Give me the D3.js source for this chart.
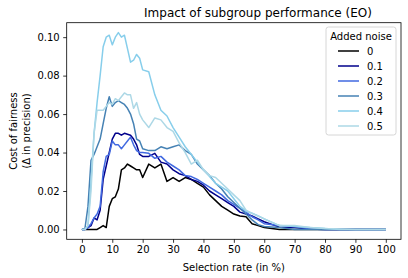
<!DOCTYPE html>
<html>
<head>
<meta charset="utf-8">
<script src="https://cdn.jsdelivr.net/npm/d3@7"></script>
<style>
  body { margin: 0; background: #fff; }
  svg { display: block; font-family: "DejaVu Sans", sans-serif; }
</style>
</head>
<body>
<div id="chart"></div>
<script>
// selection rates (in %)
const xs = [0,1,2,3,4,5,6,7,8,9,10,11,12,13,14,15,16,17,18,19,20,
  22,24,26,28,30,32,34,36,38,40,42,44,46,48,50,52,54,56,58,60,
  65,70,75,80,85,90,95,100];

const noise0 = [0,0,0,0,0,0,0.001,0.002,0.001,0.012,0.016,0.017,0.021,0.031,0.032,0.034,0.033,0.032,0.031,0.031,0.027,
  0.034,0.032,0.034,0.025,0.027,0.025,0.027,0.026,0.024,0.022,0.018,0.015,0.012,0.010,0.008,0.007,0.0066,0.003,0.002,0.001,
  0,0,0,0,0,0,0,0];
const noise1 = [0,0,0.001,0.002,0.006,0.005,0.010,0.026,0.033,0.040,0.047,0.050,0.050,0.049,0.050,0.0495,0.049,0.047,0.044,0.039,0.038,
  0.038,0.0396,0.035,0.034,0.031,0.029,0.028,0.026,0.025,0.023,0.020,0.018,0.016,0.014,0.012,0.009,0.008,0.007,0.0055,0.004,
  0.0012,0.001,0.0003,0,0,0,0,0];
const noise2 = [0,0,0.001,0.003,0.006,0.008,0.012,0.030,0.038,0.039,0.046,0.044,0.044,0.042,0.044,0.046,0.048,0.044,0.041,0.040,0.040,
  0.0396,0.037,0.038,0.035,0.033,0.031,0.028,0.0275,0.026,0.024,0.022,0.020,0.018,0.015,0.013,0.011,0.009,0.0066,0.005,0.003,
  0.002,0.0015,0.0003,0,0,0,0,0];
const noise3 = [0,0.0005,0.012,0.036,0.039,0.043,0.047,0.055,0.063,0.069,0.064,0.066,0.067,0.066,0.065,0.063,0.060,0.055,0.047,0.046,0.042,
  0.041,0.041,0.043,0.042,0.043,0.044,0.041,0.039,0.034,0.031,0.028,0.024,0.021,0.017,0.014,0.011,0.008,0.005,0.0025,0.0015,
  0.001,0,0,0,0,0,0,0];
const noise4 = [0,0,0.002,0.025,0.050,0.066,0.080,0.095,0.100,0.101,0.096,0.100,0.1024,0.100,0.101,0.094,0.087,0.088,0.091,0.089,0.083,
  0.082,0.070,0.062,0.059,0.053,0.048,0.043,0.039,0.035,0.031,0.0275,0.024,0.022,0.020,0.016,0.012,0.0095,0.0085,0.007,0.0055,
  0.002,0.0015,0.001,0.0005,0,0,0,0];
const noise5 = [0,0,0.002,0.020,0.050,0.062,0.062,0.062,0.064,0.066,0.065,0.068,0.067,0.069,0.071,0.070,0.070,0.063,0.066,0.060,0.057,
  0.053,0.058,0.057,0.053,0.051,0.045,0.040,0.034,0.036,0.031,0.028,0.027,0.024,0.021,0.018,0.015,0.010,0.0083,0.007,0.0055,
  0.002,0.002,0.001,0.0005,0.0003,0,0,0];

const noiseLabels = ["0", "0.1", "0.2", "0.3", "0.4", "0.5"];
const noiseValues = [noise0, noise1, noise2, noise3, noise4, noise5];
const colors = ["black", "darkblue", "royalblue", "steelblue", "skyblue", "lightblue"];

const xTicks = [0,10,20,30,40,50,60,70,80,90,100];
const yTicks = [0, 0.02, 0.04, 0.06, 0.08, 0.10];

const width = 408, height = 278;
const plot = { left: 66.7, right: 401, top: 22.7, bottom: 239.3 };

const svg = d3.select("#chart").append("svg")
    .attr("width", width)
    .attr("height", height);

const xScale = d3.scaleLinear().domain([-5, 105]).range([plot.left, plot.right]);
const yScale = d3.scaleLinear().domain([-0.00512, 0.10752]).range([plot.bottom, plot.top]);

// axes
const xAxis = svg.append("g")
    .attr("transform", `translate(0,${plot.bottom})`)
    .call(d3.axisBottom(xScale).tickValues(xTicks).tickSize(3.5).tickPadding(3.5).tickFormat(d3.format("d")));
const yAxis = svg.append("g")
    .attr("transform", `translate(${plot.left},0)`)
    .call(d3.axisLeft(yScale).tickValues(yTicks).tickSize(3.5).tickPadding(3.5).tickFormat(d3.format(".2f")));

[xAxis, yAxis].forEach(ax => {
    ax.select(".domain").remove();
    ax.selectAll("line").attr("stroke", "#000").attr("stroke-width", 0.8);
    ax.selectAll("text").attr("font-size", 10).attr("fill", "#000")
        .attr("font-family", "DejaVu Sans, sans-serif");
});

// lines
const line = d3.line()
    .x((d, i) => xScale(xs[i]))
    .y(d => yScale(d));

svg.append("g").selectAll("path")
    .data(noiseValues)
    .enter()
    .append("path")
    .attr("d", d => line(d))
    .attr("fill", "none")
    .attr("stroke", (d, i) => colors[i])
    .attr("stroke-width", 1.5)
    .attr("stroke-linejoin", "round");

// frame
svg.append("rect")
    .attr("x", plot.left).attr("y", plot.top)
    .attr("width", plot.right - plot.left)
    .attr("height", plot.bottom - plot.top)
    .attr("fill", "none")
    .attr("stroke", "#000")
    .attr("stroke-width", 0.8);

// title and axis labels
svg.append("text")
    .attr("x", 258).attr("y", 16.5)
    .attr("text-anchor", "middle").attr("font-size", 12)
    .text("Impact of subgroup performance (EO)");

svg.append("text")
    .attr("x", (plot.left + plot.right) / 2).attr("y", 271)
    .attr("text-anchor", "middle").attr("font-size", 10)
    .text("Selection rate (in %)");

const yLabel = svg.append("text")
    .attr("transform", `translate(17,${(plot.top + plot.bottom) / 2}) rotate(-90)`)
    .attr("text-anchor", "middle").attr("font-size", 10);
yLabel.append("tspan").attr("x", 0).attr("y", 0).text("Cost of fairness");
yLabel.append("tspan").attr("x", 0).attr("y", 13).text("(Δ in precision)");

// legend
const legend = svg.append("g").attr("transform", "translate(326,27)");
legend.append("rect")
    .attr("width", 70).attr("height", 108)
    .attr("rx", 2.5)
    .attr("fill", "#fff").attr("fill-opacity", 0.8)
    .attr("stroke", "#ccc").attr("stroke-width", 0.8);
legend.append("text")
    .attr("x", 35).attr("y", 13)
    .attr("text-anchor", "middle").attr("font-size", 10)
    .text("Added noise");

const entries = legend.selectAll(".entry")
    .data(noiseLabels)
    .enter()
    .append("g")
    .attr("class", "entry")
    .attr("transform", (d, i) => `translate(0,${24 + i * 15})`);
entries.append("line")
    .attr("x1", 12).attr("x2", 33)
    .attr("stroke", (d, i) => colors[i])
    .attr("stroke-width", 1.5);
entries.append("text")
    .attr("x", 41).attr("y", 3.5)
    .attr("font-size", 10)
    .text(d => d);
</script>
</body>
</html>
